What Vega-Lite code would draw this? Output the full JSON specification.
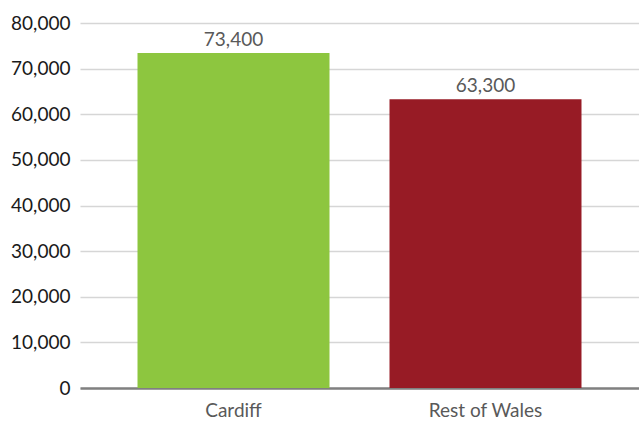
{
  "$schema": "https://vega.github.io/schema/vega-lite/v6.json",
  "width": 559,
  "height": 365,
  "autosize": {"type": "none"},
  "padding": {"left": 80, "top": 23, "right": 0, "bottom": 36},
  "background": "white",
  "config": {
    "view": {"stroke": null},
    "font": "Lato"
  },
  "data": {
    "values": [
      {"region": "Cardiff", "value": 73400, "label": "73,400"},
      {"region": "Rest of Wales", "value": 63300, "label": "63,300"}
    ]
  },
  "encoding": {
    "x": {
      "field": "region",
      "type": "nominal",
      "sort": null,
      "scale": {"paddingInner": 0.2381, "paddingOuter": 0.2282},
      "axis": {
        "title": null,
        "labelAngle": 0,
        "ticks": false,
        "labelPadding": 13,
        "labelFontSize": 19,
        "labelColor": "#595959",
        "domainColor": "#808080",
        "domainWidth": 2.5,
        "grid": false
      }
    },
    "y": {
      "field": "value",
      "type": "quantitative",
      "scale": {"domain": [0, 80000]},
      "axis": {
        "title": null,
        "values": [0, 10000, 20000, 30000, 40000, 50000, 60000, 70000, 80000],
        "format": ",.0f",
        "ticks": false,
        "domain": false,
        "labelPadding": 10,
        "labelFontSize": 19,
        "labelColor": "#1a1a1a",
        "gridColor": "#d6d6d6",
        "gridWidth": 1.5
      }
    }
  },
  "layer": [
    {
      "mark": {"type": "bar"},
      "encoding": {
        "color": {
          "field": "region",
          "type": "nominal",
          "scale": {"domain": ["Cardiff", "Rest of Wales"], "range": ["#8DC63F", "#971B25"]},
          "legend": null
        }
      }
    },
    {
      "mark": {"type": "text", "baseline": "bottom", "dy": -3, "fontSize": 19, "color": "#595959"},
      "encoding": {
        "text": {"field": "label", "type": "nominal"}
      }
    }
  ]
}
